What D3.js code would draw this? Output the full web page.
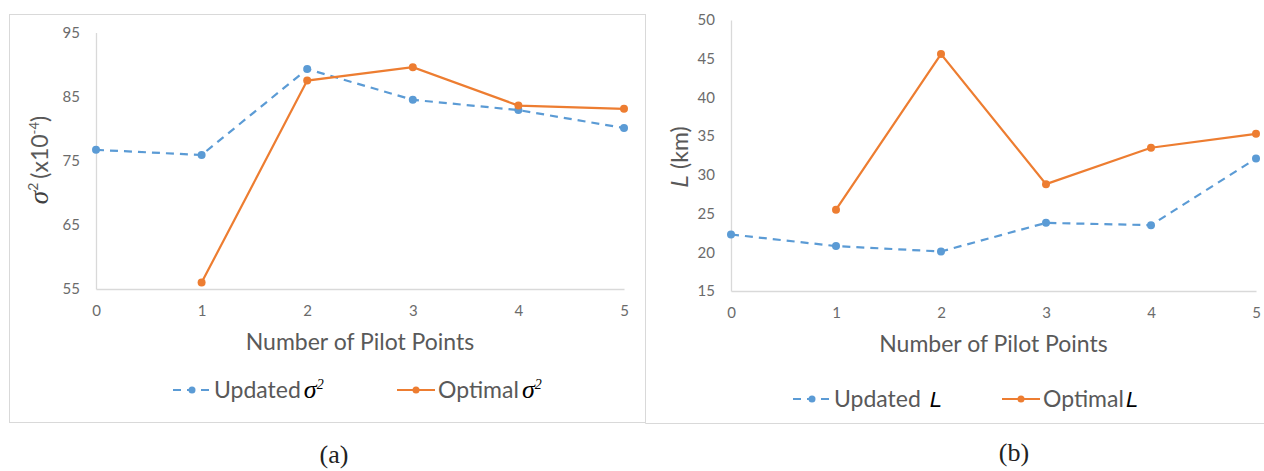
<!DOCTYPE html>
<html>
<head>
    <meta charset="UTF-8">
    <title>pilot points</title>
    <style>
        body { margin: 0; background: #fff; }
        .tick text { font-family: Lato, "Open Sans", sans-serif; fill: #6b6b6b; }
    </style>
</head>
<body>
    <script src="https://cdn.jsdelivr.net/npm/d3@7/dist/d3.min.js"></script>
    <svg id="svg" width="1264" height="471"></svg>
    <script>
        // data
        const pilotPoints = [0, 1, 2, 3, 4, 5];
        const updatedSigma = [76.7, 75.9, 89.3, 84.5, 82.9, 80.1];
        const optimalSigma = [null, 56.0, 87.5, 89.6, 83.6, 83.1];
        const updatedL = [22.3, 20.8, 20.1, 23.8, 23.5, 32.1];
        const optimalL = [null, 25.5, 45.6, 28.8, 33.5, 35.3];
        const sigmaTicks = [55, 65, 75, 85, 95];
        const lTicks = [15, 20, 25, 30, 35, 40, 45, 50];

        const blue = "#5b9bd5", orange = "#ed7d31";
        const bigFont = 23;
        const svg = d3.select("#svg");

        // panel frames
        svg.append("rect").attr("x", 9.5).attr("y", 14.5).attr("width", 636).attr("height", 408)
            .attr("fill", "none").attr("stroke", "#d9d9d9");
        svg.append("path").attr("d", "M645.5,14.5V423.5H1264")
            .attr("fill", "none").attr("stroke", "#d9d9d9");

        const drawPanel = function (opt) {
            const x = d3.scaleLinear().domain([0, 5]).range([opt.x0, opt.x1]);
            const y = d3.scaleLinear().domain(opt.yDomain).range([opt.yBottom, opt.yTop]);
            const g = svg.append("g");

            // axes
            const yAxis = g.append("g").attr("transform", `translate(${opt.x0},0)`)
                .call(d3.axisLeft(y).tickValues(opt.yTicks).tickSize(0).tickPadding(16));
            const xAxis = g.append("g").attr("transform", `translate(0,${opt.yBottom})`)
                .call(d3.axisBottom(x).tickValues(pilotPoints).tickSize(0).tickPadding(16).tickFormat(d3.format("d")));
            [yAxis, xAxis].forEach(a => {
                a.select(".domain").attr("stroke", "#d9d9d9").attr("stroke-width", 1.3);
                a.selectAll(".tick text").attr("font-size", 15);
            });

            // axis titles
            g.append("text").attr("x", (opt.x0 + opt.x1) / 2).attr("y", opt.yBottom + 61)
                .attr("text-anchor", "middle").attr("font-family", "Lato, sans-serif").attr("font-size", bigFont)
                .attr("fill", "#595959").text("Number of Pilot Points");
            const yt = g.append("text").attr("transform", `translate(${opt.yTitleX},${opt.yTitleY}) rotate(-90)`)
                .attr("text-anchor", "middle").attr("font-family", "Lato, sans-serif").attr("font-size", bigFont)
                .attr("fill", "#595959");
            opt.yTitle(yt);

            // series
            const series = [
                { values: opt.updated, color: blue, dash: "8,6" },
                { values: opt.optimal, color: orange, dash: null }
            ];
            series.forEach(s => {
                const pts = pilotPoints.map((p, i) => ({ p: p, v: s.values[i] })).filter(d => d.v != null);
                g.append("path").datum(pts)
                    .attr("fill", "none").attr("stroke", s.color).attr("stroke-width", 2.2)
                    .attr("stroke-dasharray", s.dash)
                    .attr("d", d3.line().x(d => x(d.p)).y(d => y(d.v)));
                g.selectAll(null).data(pts).enter().append("circle")
                    .attr("cx", d => x(d.p)).attr("cy", d => y(d.v)).attr("r", 4)
                    .attr("fill", s.color);
            });

            // legend
            opt.legend.forEach((l, i) => {
                const lg = g.append("g").attr("transform", `translate(${l.x},${opt.legendY})`);
                lg.append("line").attr("x1", 0).attr("x2", 38).attr("y1", 0).attr("y2", 0)
                    .attr("stroke", series[i].color).attr("stroke-width", 2.2)
                    .attr("stroke-dasharray", series[i].dash ? "8,6" : null);
                lg.append("circle").attr("cx", 19).attr("cy", 0).attr("r", 3.5).attr("fill", series[i].color);
                const t = lg.append("text").attr("x", 41).attr("y", 8).attr("font-family", "Lato, sans-serif")
                    .attr("font-size", bigFont).attr("fill", "#595959");
                t.append("tspan").text(l.label);
                l.sym(t);
            });

            return { x: x, y: y };
        };

        const sigmaSym = function (t) {
            t.append("tspan").attr("dx", 3).attr("font-family", "'Liberation Serif', serif")
                .attr("font-style", "italic").attr("font-size", 26).attr("fill", "#000").text("σ");
            t.append("tspan").attr("dy", -9).attr("font-family", "'Liberation Serif', serif")
                .attr("font-style", "italic").attr("font-size", 14).attr("fill", "#000").text("2");
        };
        const lSym = function (gap) {
            return function (t) {
                t.append("tspan").attr("dx", gap).attr("font-family", "'Liberation Sans', sans-serif")
                    .attr("font-style", "italic").attr("font-size", 22).attr("fill", "#000").text("L");
            };
        };

        drawPanel({
            x0: 96, x1: 624, yTop: 32.5, yBottom: 289, yDomain: [55, 95], yTicks: sigmaTicks,
            updated: updatedSigma, optimal: optimalSigma,
            yTitleX: 48, yTitleY: 160,
            yTitle: function (t) {
                t.append("tspan").attr("font-family", "'Liberation Serif', serif").attr("font-style", "italic")
                    .attr("font-size", 27).attr("fill", "#404040").text("σ");
                t.append("tspan").attr("dy", -10).attr("font-size", 14).text("2");
                t.append("tspan").attr("dy", 10).attr("dx", 4).text("(x10");
                t.append("tspan").attr("dy", -9).attr("font-size", 13).text("-4");
                t.append("tspan").attr("dy", 9).text(")");
            },
            legendY: 390,
            legend: [{ x: 173, label: "Updated", sym: sigmaSym }, { x: 397, label: "Optimal", sym: sigmaSym }]
        });

        drawPanel({
            x0: 731, x1: 1256, yTop: 20, yBottom: 291, yDomain: [15, 50], yTicks: lTicks,
            updated: updatedL, optimal: optimalL,
            yTitleX: 688, yTitleY: 157,
            yTitle: function (t) {
                t.append("tspan").attr("font-family", "'Liberation Sans', sans-serif").attr("font-style", "italic")
                    .text("L");
                t.append("tspan").text(" (km)");
            },
            legendY: 399,
            legend: [{ x: 793, label: "Updated", sym: lSym(9) }, { x: 1002, label: "Optimal", sym: lSym(2) }]
        });

        // sub-figure captions
        svg.append("text").attr("x", 334).attr("y", 463).attr("text-anchor", "middle")
            .attr("font-family", "'Liberation Serif', serif").attr("font-size", 26).attr("fill", "#222").text("(a)");
        svg.append("text").attr("x", 1014).attr("y", 461).attr("text-anchor", "middle")
            .attr("font-family", "'Liberation Serif', serif").attr("font-size", 26).attr("fill", "#222").text("(b)");
    </script>
</body>
</html>
